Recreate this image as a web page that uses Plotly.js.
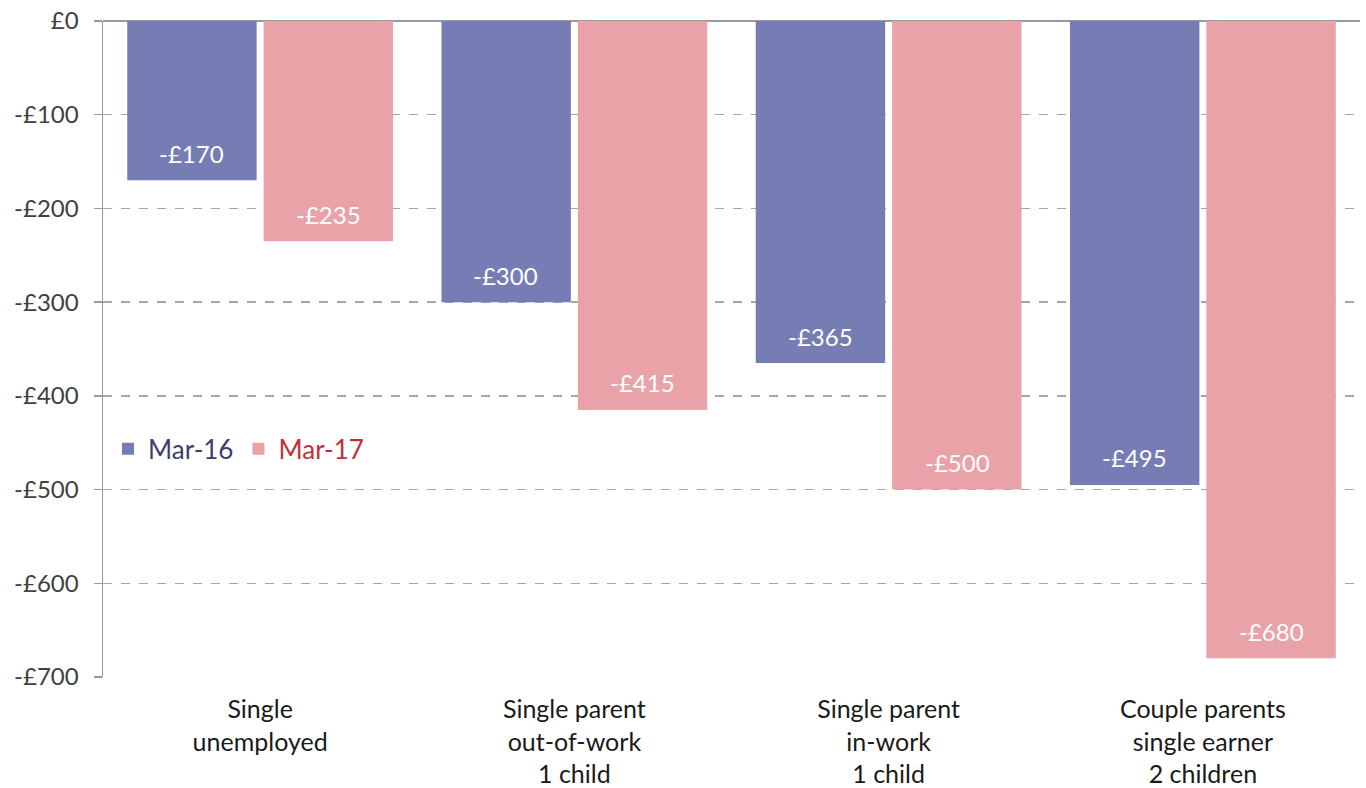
<!DOCTYPE html>
<html>
<head>
<meta charset="utf-8">
<script src="https://cdn.plot.ly/plotly-3.0.1.min.js"></script>
<style>html,body{margin:0;padding:0;background:#fff;}#chart{width:1366px;height:788px;}</style>
</head>
<body>
<div id="chart"></div>
<script>
const categories = ["Single<br>unemployed", "Single parent<br>out-of-work<br>1 child", "Single parent<br>in-work<br>1 child", "Couple parents<br>single earner<br>2 children"];
const seriesNames = ["Mar-16", "Mar-17"];
const mar16 = [-170, -300, -365, -495];
const mar17 = [-235, -415, -500, -680];
const yTickVals = [0, -100, -200, -300, -400, -500, -600, -700];
const yTickText = ["£0", "-£100", "-£200", "-£300", "-£400", "-£500", "-£600", "-£700"];

const colors = ["#767db5", "#e9a3a8"];
const legendColors = ["#3a3f6e", "#c0303a"];
const fontFam = "Lato, 'Open Sans', sans-serif";

function fmt(v){ return (v < 0 ? "-" : "") + "£" + Math.abs(v); }

const traces = [mar16, mar17].map((vals, i) => ({
  type: "bar",
  x: categories,
  y: vals,
  name: '<span style="color:' + legendColors[i] + '">' + seriesNames[i] + '</span>',
  marker: {color: colors[i]},
  hoverinfo: "skip"
}));

const slotPx = 137;
const annotations = [];
[mar16, mar17].forEach((vals, i) => {
  vals.forEach((v, j) => {
    annotations.push({
      x: categories[j], y: v, xref: "x", yref: "y",
      xshift: (i === 0 ? -1 : 1) * slotPx / 2,
      yshift: 27, yanchor: "middle", xanchor: "center",
      text: fmt(v), showarrow: false,
      font: {family: fontFam, size: 24, color: "#ffffff"}
    });
  });
});

const layout = {
  width: 1366, height: 788,
  margin: {l: 103, r: 6, t: 21, b: 111},
  paper_bgcolor: "#ffffff", plot_bgcolor: "#ffffff",
  barmode: "group", bargap: 0.132, bargroupgap: 0.051,
  font: {family: fontFam},
  showlegend: true,
  legend: {
    orientation: "h", x: 0.004, y: 0.3476, xanchor: "left", yanchor: "middle",
    font: {family: fontFam, size: 26}, bgcolor: "rgba(0,0,0,0)",
    tracegroupgap: 0
  },
  xaxis: {
    type: "category", showgrid: false, zeroline: false, showline: false,
    ticks: "", tickfont: {family: fontFam, size: 25, color: "#1a1a1a"},
    ticklabelstandoff: 15,
    automargin: false
  },
  yaxis: {
    range: [-700, 0], tickvals: yTickVals, ticktext: yTickText,
    showgrid: true, gridcolor: "#a6a6a6", griddash: "dash", gridwidth: 1.5,
    zeroline: true, zerolinecolor: "#9a9a9a", zerolinewidth: 1.5,
    showline: true, linecolor: "#9a9a9a", linewidth: 1.5,
    ticks: "outside", ticklen: 8, tickcolor: "#9a9a9a", tickwidth: 1.5,
    tickfont: {family: fontFam, size: 24, color: "#404040"},
    ticklabelstandoff: 10,
    automargin: false
  },
  annotations: annotations
};

Plotly.newPlot("chart", traces, layout, {displayModeBar: false, staticPlot: true});
</script>
</body>
</html>
